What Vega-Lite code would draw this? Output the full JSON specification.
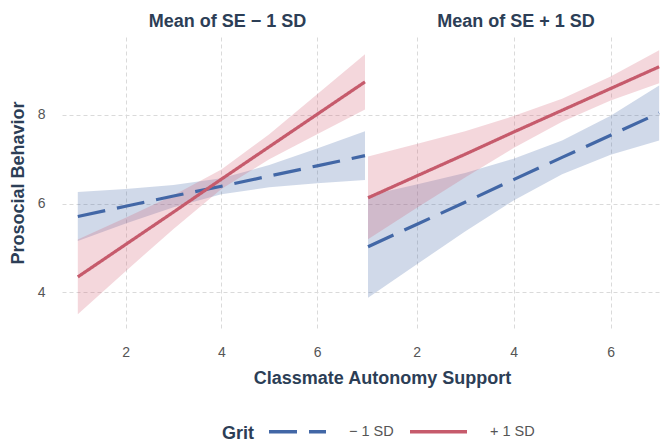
{
  "$schema": "https://vega.github.io/schema/vega-lite/v6.json",
  "background": "white",
  "padding": {"left": 9, "top": 13, "right": 0, "bottom": 0},
  "spacing": 3,
  "bounds": "flush",
  "data": {"values": [
    {"p": "L", "g": "− 1 SD", "x": 1, "y": 5.71, "lo": 5.16, "hi": 6.26},
    {"p": "L", "g": "− 1 SD", "x": 2, "y": 5.94, "lo": 5.55, "hi": 6.33},
    {"p": "L", "g": "− 1 SD", "x": 3, "y": 6.17, "lo": 5.92, "hi": 6.42},
    {"p": "L", "g": "− 1 SD", "x": 4, "y": 6.39, "lo": 6.21, "hi": 6.57},
    {"p": "L", "g": "− 1 SD", "x": 5, "y": 6.62, "lo": 6.37, "hi": 6.87},
    {"p": "L", "g": "− 1 SD", "x": 6, "y": 6.85, "lo": 6.46, "hi": 7.24},
    {"p": "L", "g": "− 1 SD", "x": 7, "y": 7.08, "lo": 6.53, "hi": 7.63},
    {"p": "L", "g": "+ 1 SD", "x": 1, "y": 4.35, "lo": 3.51, "hi": 5.19},
    {"p": "L", "g": "+ 1 SD", "x": 2, "y": 5.08, "lo": 4.48, "hi": 5.68},
    {"p": "L", "g": "+ 1 SD", "x": 3, "y": 5.81, "lo": 5.43, "hi": 6.19},
    {"p": "L", "g": "+ 1 SD", "x": 4, "y": 6.55, "lo": 6.33, "hi": 6.77},
    {"p": "L", "g": "+ 1 SD", "x": 5, "y": 7.28, "lo": 7.00, "hi": 7.56},
    {"p": "L", "g": "+ 1 SD", "x": 6, "y": 8.01, "lo": 7.56, "hi": 8.46},
    {"p": "L", "g": "+ 1 SD", "x": 7, "y": 8.74, "lo": 8.12, "hi": 9.36},
    {"p": "R", "g": "− 1 SD", "x": 1, "y": 5.03, "lo": 3.88, "hi": 6.18},
    {"p": "R", "g": "− 1 SD", "x": 2, "y": 5.53, "lo": 4.63, "hi": 6.43},
    {"p": "R", "g": "− 1 SD", "x": 3, "y": 6.03, "lo": 5.37, "hi": 6.69},
    {"p": "R", "g": "− 1 SD", "x": 4, "y": 6.54, "lo": 6.07, "hi": 7.01},
    {"p": "R", "g": "− 1 SD", "x": 5, "y": 7.04, "lo": 6.66, "hi": 7.42},
    {"p": "R", "g": "− 1 SD", "x": 6, "y": 7.54, "lo": 7.10, "hi": 7.98},
    {"p": "R", "g": "− 1 SD", "x": 7, "y": 8.04, "lo": 7.42, "hi": 8.66},
    {"p": "R", "g": "+ 1 SD", "x": 1, "y": 6.13, "lo": 5.20, "hi": 7.06},
    {"p": "R", "g": "+ 1 SD", "x": 2, "y": 6.62, "lo": 5.90, "hi": 7.34},
    {"p": "R", "g": "+ 1 SD", "x": 3, "y": 7.11, "lo": 6.59, "hi": 7.63},
    {"p": "R", "g": "+ 1 SD", "x": 4, "y": 7.61, "lo": 7.25, "hi": 7.97},
    {"p": "R", "g": "+ 1 SD", "x": 5, "y": 8.10, "lo": 7.84, "hi": 8.36},
    {"p": "R", "g": "+ 1 SD", "x": 6, "y": 8.59, "lo": 8.32, "hi": 8.86},
    {"p": "R", "g": "+ 1 SD", "x": 7, "y": 9.08, "lo": 8.71, "hi": 9.45}
  ]},
  "hconcat": [
    {
      "width": 303,
      "height": 291,
      "title": {"text": "Mean of SE − 1 SD", "dx": 14},
      "transform": [{"filter": "datum.p == 'L'"}],
      "encoding": {
        "x": {"field": "x", "type": "quantitative", "scale": {"domain": [0.67, 7.0], "nice": false, "zero": false},
              "axis": {"values": [2, 4, 6], "title": "Classmate Autonomy Support", "titleX": 320, "titleAnchor": null}}
      },
      "layer": [
        {
          "transform": [{"filter": "datum.g == '− 1 SD'"}],
          "mark": {"type": "area", "opacity": 0.25, "color": "#4267A6"},
          "encoding": {
            "y": {"field": "lo", "type": "quantitative", "scale": {"domain": [3.2, 9.75], "nice": false, "zero": false},
                  "axis": {"values": [4, 6, 8], "title": "Prosocial Behavior"}},
            "y2": {"field": "hi"}
          }
        },
        {
          "transform": [{"filter": "datum.g == '+ 1 SD'"}],
          "mark": {"type": "area", "opacity": 0.24, "color": "#D0586C"},
          "encoding": {
            "y": {"field": "lo", "type": "quantitative"},
            "y2": {"field": "hi"}
          }
        },
        {
          "mark": {"type": "line", "strokeWidth": 3.2},
          "encoding": {
            "y": {"field": "y", "type": "quantitative"},
            "color": {"field": "g", "type": "nominal", "scale": {"domain": ["− 1 SD", "+ 1 SD"], "range": ["#4267A6", "#C65B6C"]}, "title": "Grit"},
            "strokeDash": {"field": "g", "type": "nominal", "scale": {"domain": ["− 1 SD", "+ 1 SD"], "range": [[28, 12], [1, 0]]}, "title": "Grit"}
          }
        }
      ]
    },
    {
      "width": 296,
      "height": 291,
      "title": {"text": "Mean of SE + 1 SD"},
      "transform": [{"filter": "datum.p == 'R'"}],
      "encoding": {
        "x": {"field": "x", "type": "quantitative", "scale": {"domain": [1.0, 7.1], "nice": false, "zero": false},
              "axis": {"values": [2, 4, 6], "title": null}}
      },
      "layer": [
        {
          "transform": [{"filter": "datum.g == '− 1 SD'"}],
          "mark": {"type": "area", "opacity": 0.25, "color": "#4267A6"},
          "encoding": {
            "y": {"field": "lo", "type": "quantitative", "scale": {"domain": [3.2, 9.75], "nice": false, "zero": false},
                  "axis": {"values": [4, 6, 8], "labels": false, "title": null}},
            "y2": {"field": "hi"}
          }
        },
        {
          "transform": [{"filter": "datum.g == '+ 1 SD'"}],
          "mark": {"type": "area", "opacity": 0.24, "color": "#D0586C"},
          "encoding": {
            "y": {"field": "lo", "type": "quantitative"},
            "y2": {"field": "hi"}
          }
        },
        {
          "mark": {"type": "line", "strokeWidth": 3.2},
          "encoding": {
            "y": {"field": "y", "type": "quantitative"},
            "color": {"field": "g", "type": "nominal", "scale": {"domain": ["− 1 SD", "+ 1 SD"], "range": ["#4267A6", "#C65B6C"]}, "title": "Grit"},
            "strokeDash": {"field": "g", "type": "nominal", "scale": {"domain": ["− 1 SD", "+ 1 SD"], "range": [[28, 12], [1, 0]]}, "title": "Grit"}
          }
        }
      ]
    }
  ],
  "resolve": {"scale": {"x": "independent"}},
  "config": {
    "font": "Liberation Sans",
    "view": {"stroke": null},
    "axis": {
      "grid": true, "gridColor": "#DADADA", "gridDash": [4, 3], "gridWidth": 1,
      "domain": false, "ticks": false,
      "labelColor": "#555555", "labelFontSize": 14, "labelPadding": 17,
      "titleColor": "#2C3E56", "titleFontSize": 18, "titleFontWeight": "bold", "titlePadding": 10
    },
    "title": {"fontSize": 18, "fontWeight": "bold", "color": "#2C3E56", "anchor": "middle", "offset": 6},
    "legend": {
      "orient": "none", "legendX": 160, "legendY": 364,
      "direction": "horizontal", "titleOrient": "left", "titleAnchor": "middle",
      "titleBaseline": "line-top", "titleLineHeight": 28,
      "titleFontSize": 18, "titleFontWeight": "bold", "titleColor": "#2C3E56", "titlePadding": 12,
      "labelFontSize": 14.5, "labelColor": "#555555", "labelOffset": 21, "columnPadding": 9,
      "symbolType": "stroke", "symbolSize": 3249, "symbolStrokeWidth": 3.5
    }
  }
}
